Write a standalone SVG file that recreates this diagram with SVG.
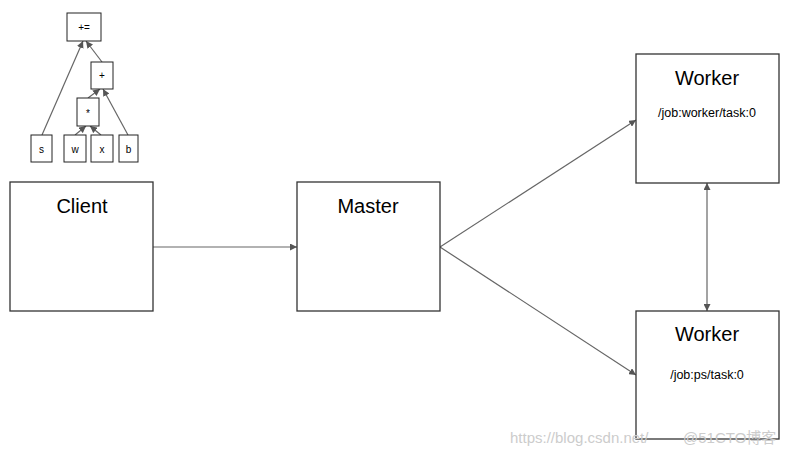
<svg xmlns="http://www.w3.org/2000/svg" width="790" height="457" viewBox="0 0 790 457">
<style>
.box{fill:#fff;stroke:#333;stroke-width:1.3}
.sbox{fill:#fff;stroke:#222;stroke-width:1}
.ln{stroke:#666;stroke-width:1.2;fill:none}
.big{font-family:"Liberation Sans",Arial,sans-serif;font-size:20px;fill:#000;text-anchor:middle}
.mid{font-family:"Liberation Sans",Arial,sans-serif;font-size:12.5px;fill:#000;text-anchor:middle}
.sm{font-family:"Liberation Sans",Arial,sans-serif;font-size:10px;fill:#000;text-anchor:middle}
.wm{font-family:"Liberation Sans","Noto Sans CJK SC",sans-serif;font-size:15px;fill:#ccc}
</style>
<defs>
<marker id="ah" viewBox="0 0 10 10" refX="10" refY="5" markerWidth="7" markerHeight="7" orient="auto-start-reverse" markerUnits="userSpaceOnUse">
<path d="M0,0 L10,5 L0,10 z" fill="#555"/>
</marker>
</defs>
<rect width="790" height="457" fill="#fff"/>
<g id="connectors">
<line class="ln" x1="42" y1="135" x2="83" y2="41" marker-end="url(#ah)"/>
<line class="ln" x1="102" y1="62" x2="86" y2="41" marker-end="url(#ah)"/>
<line class="ln" x1="88" y1="98" x2="100" y2="89" marker-end="url(#ah)"/>
<line class="ln" x1="128" y1="135" x2="103" y2="89" marker-end="url(#ah)"/>
<line class="ln" x1="75" y1="135" x2="86" y2="126" marker-end="url(#ah)"/>
<line class="ln" x1="101" y1="135" x2="90" y2="126" marker-end="url(#ah)"/>
<line class="ln" x1="153" y1="247" x2="297" y2="247" marker-end="url(#ah)"/>
<line class="ln" x1="440" y1="247" x2="636" y2="120" marker-end="url(#ah)"/>
<line class="ln" x1="440" y1="247" x2="636" y2="375" marker-end="url(#ah)"/>
<line class="ln" x1="707" y1="183" x2="707" y2="311" marker-start="url(#ah)" marker-end="url(#ah)"/>
</g>
<g id="op-assign"><rect class="sbox" x="67" y="13" width="34" height="28"/><text class="sm" x="84" y="31">+=</text></g>
<g id="op-add"><rect class="sbox" x="91" y="62" width="22" height="27"/><text class="sm" x="102" y="79">+</text></g>
<g id="op-mul"><rect class="sbox" x="77" y="98" width="22" height="28"/><text class="sm" x="88" y="117">*</text></g>
<g id="var-s"><rect class="sbox" x="31" y="135" width="21" height="27"/><text class="sm" x="41.5" y="153">s</text></g>
<g id="var-w"><rect class="sbox" x="64" y="135" width="22" height="27"/><text class="sm" x="75" y="153">w</text></g>
<g id="var-x"><rect class="sbox" x="91" y="135" width="22" height="27"/><text class="sm" x="102" y="153">x</text></g>
<g id="var-b"><rect class="sbox" x="119" y="135" width="19" height="27"/><text class="sm" x="128.5" y="153">b</text></g>
<g id="client"><rect class="box" x="10" y="182" width="143" height="129"/><text class="big" x="82" y="213">Client</text></g>
<g id="master"><rect class="box" x="297" y="182" width="143" height="129"/><text class="big" x="368" y="213">Master</text></g>
<g id="worker1"><rect class="box" x="636" y="54" width="143" height="129"/><text class="big" x="707" y="85">Worker</text><text class="mid" x="707" y="117">/job:worker/task:0</text></g>
<g id="worker2"><rect class="box" x="636" y="311" width="143" height="128"/><text class="big" x="707" y="341">Worker</text><text class="mid" x="707" y="379">/job:ps/task:0</text></g>
<text class="wm" x="510" y="443">https://blog.csdn.net/</text>
<text class="wm" x="683" y="443">@51CTO博客</text>
</svg>
